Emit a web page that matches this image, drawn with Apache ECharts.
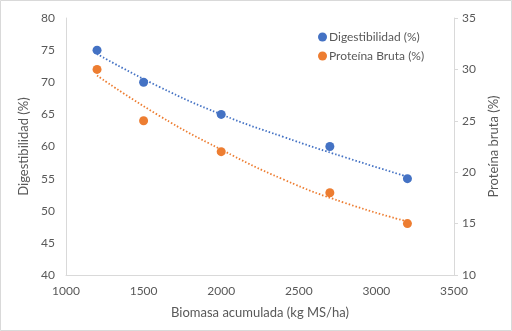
<!DOCTYPE html>
<html>
<head>
<meta charset="utf-8">
<script src="https://cdn.jsdelivr.net/npm/echarts@6/dist/echarts.min.js"></script>
<style>
html,body{margin:0;padding:0;background:#fff;}
#c{width:512px;height:331px;}
</style>
</head>
<body>
<div id="c"></div>
<script>
// Data
var biomasa = [1200, 1500, 2000, 2700, 3200];
var digestibilidad = [75, 70, 65, 60, 55];
var proteina = [30, 25, 22, 18, 15];
// Trendline values (dotted lines)
var trendX = [1200, 1600, 2000, 2400, 2800, 3200];
var trendDig = [74.4, 69.3, 65.0, 61.5, 58.3, 55.3];
var trendProt = [29.4, 25.5, 22.2, 19.3, 17.0, 15.2];
var xTicks = [1000, 1500, 2000, 2500, 3000, 3500];

var blue = '#4472C4', orange = '#ED7D31';
var txt = '#595959', axisCol = '#D9D9D9';
var font = 'Lato';

function pairs(xs, ys){ return xs.map(function(x,i){ return [x, ys[i]]; }); }

var chart = echarts.init(document.getElementById('c'), null, {renderer:'canvas'});
chart.setOption({
  animation:false,
  backgroundColor:'#fff',
  textStyle:{fontFamily:font},
  graphic:[{type:'rect', shape:{x:0.5,y:0.5,width:511,height:330}, style:{fill:'none', stroke:axisCol, lineWidth:1}, silent:true}],
  grid:{left:66, right:58, top:18, bottom:56},
  legend:{
    data:['Digestibilidad (%)','Proteína Bruta (%)'],
    orient:'vertical', left:313, top:26, itemGap:7,
    itemWidth:9, itemHeight:9, icon:'circle',
    itemStyle:{opacity:1},
    textStyle:{color:txt, fontFamily:font, fontSize:12, padding:[0,0,0,-3]}
  },
  xAxis:{
    type:'value', min:xTicks[0], max:xTicks[xTicks.length-1], interval:500,
    name:'Biomasa acumulada (kg MS/ha)', nameLocation:'middle', nameGap:31,
    nameTextStyle:{color:txt, fontSize:13, fontFamily:font},
    axisLine:{show:true, lineStyle:{color:axisCol, width:1}},
    axisTick:{show:false},
    splitLine:{show:false},
    axisLabel:{color:txt, fontSize:12, margin:10, fontFamily:font, formatter:function(v){ return String(v); }}
  },
  yAxis:[{
    type:'value', min:40, max:80, interval:5, position:'left',
    name:'Digestibilidad (%)', nameLocation:'middle', nameGap:30, nameRotate:90,
    nameTextStyle:{color:txt, fontSize:13, fontFamily:font},
    axisLine:{show:true, lineStyle:{color:axisCol, width:1}},
    axisTick:{show:false},
    splitLine:{show:false},
    axisLabel:{color:txt, fontSize:12, margin:11, fontFamily:font}
  },{
    type:'value', min:10, max:35, interval:5, position:'right',
    name:'Proteína bruta (%)', nameLocation:'middle', nameGap:29, nameRotate:90,
    nameTextStyle:{color:txt, fontSize:13, fontFamily:font},
    axisLine:{show:true, lineStyle:{color:axisCol, width:1}},
    axisTick:{show:true, length:4, inside:false, lineStyle:{color:axisCol}},
    splitLine:{show:false},
    axisLabel:{color:txt, fontSize:12, margin:8, fontFamily:font}
  }],
  series:[{
    name:'tendDig', type:'line', yAxisIndex:0, smooth:true, symbol:'none', silent:true,
    data:pairs(trendX, trendDig),
    lineStyle:{color:blue, width:1.8, type:[1.5,2]}, z:1
  },{
    name:'tendProt', type:'line', yAxisIndex:1, smooth:true, symbol:'none', silent:true,
    data:pairs(trendX, trendProt),
    lineStyle:{color:orange, width:1.8, type:[1.5,2]}, z:1
  },{
    name:'Digestibilidad (%)', type:'scatter', yAxisIndex:0, symbolSize:9,
    itemStyle:{color:blue, opacity:1}, data:pairs(biomasa, digestibilidad), z:3
  },{
    name:'Proteína Bruta (%)', type:'scatter', yAxisIndex:1, symbolSize:9,
    itemStyle:{color:orange, opacity:1}, data:pairs(biomasa, proteina), z:3
  }]
});
</script>
</body>
</html>
